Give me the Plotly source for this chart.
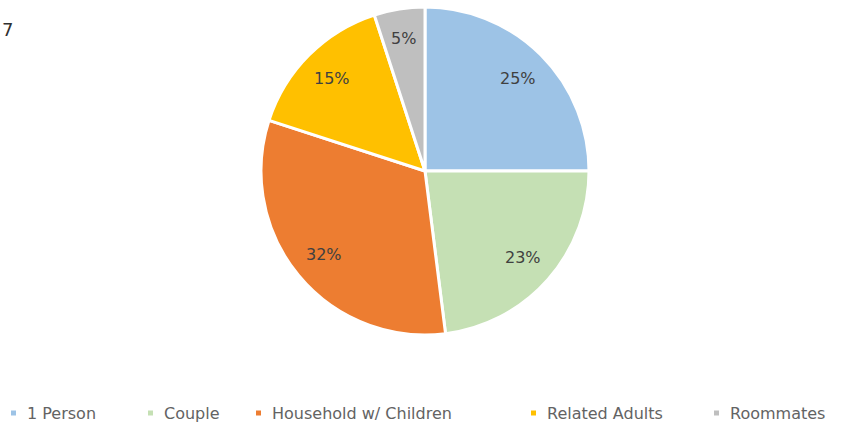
import math
import plotly.graph_objects as go

# Household composition shares
categories = ["1 Person", "Couple", "Household w/ Children", "Related Adults", "Roommates"]
shares = [25, 23, 32, 15, 5]
colors = ["#9DC3E6", "#C5E0B4", "#ED7D31", "#FFC000", "#BFBFBF"]

W, H = 863, 427
cx_px, cy_px, r_px = 425, 171, 164

fig = go.Figure(
    go.Pie(
        labels=categories,
        values=shares,
        sort=False,
        direction="clockwise",
        rotation=0,
        marker=dict(colors=colors, line=dict(color="white", width=3)),
        textinfo="none",
        domain=dict(
            x=[(cx_px - r_px) / W, (cx_px + r_px) / W],
            y=[1 - (cy_px + r_px) / H, 1 - (cy_px - r_px) / H],
        ),
        hoverinfo="label+percent",
        showlegend=False,
    )
)

# Percentage labels placed along each slice's mid-angle
total = sum(shares)
cum = 0
for v in shares:
    mid = (cum + v / 2) / total * 2 * math.pi
    cum += v
    frac = 0.8 if v >= 10 else 0.82
    px = cx_px + r_px * frac * math.sin(mid)
    py = cy_px - r_px * frac * math.cos(mid)
    fig.add_annotation(
        text=f"{v}%", x=px / W, y=1 - py / H, xref="paper", yref="paper",
        xanchor="center", yanchor="middle", showarrow=False,
        font=dict(family="DejaVu Sans", size=16, color="#404040"),
    )

# Legend row along the bottom: small coloured squares followed by names
legend_marker_x = [11, 148, 256, 531, 714]
legend_y = 413
for name, col, mx in zip(categories, colors, legend_marker_x):
    fig.add_shape(
        type="rect", xref="paper", yref="paper",
        x0=mx / W, x1=(mx + 5) / W,
        y0=1 - (legend_y + 2.5) / H, y1=1 - (legend_y - 2.5) / H,
        fillcolor=col, line=dict(width=0),
    )
    fig.add_annotation(
        text=name, x=(mx + 14) / W, y=1 - legend_y / H, xref="paper", yref="paper",
        xanchor="left", yanchor="middle", showarrow=False,
        font=dict(family="DejaVu Sans", size=16, color="#636363"),
    )

fig.add_annotation(
    text="7", x=0, y=1 - 30 / H, xref="paper", yref="paper",
    xanchor="left", yanchor="middle", showarrow=False,
    font=dict(family="DejaVu Sans", size=18, color="#303030"),
)

fig.update_layout(
    width=W,
    height=H,
    margin=dict(l=0, r=0, t=0, b=0),
    paper_bgcolor="white",
    plot_bgcolor="white",
    showlegend=False,
)

fig.write_html("out.html")
